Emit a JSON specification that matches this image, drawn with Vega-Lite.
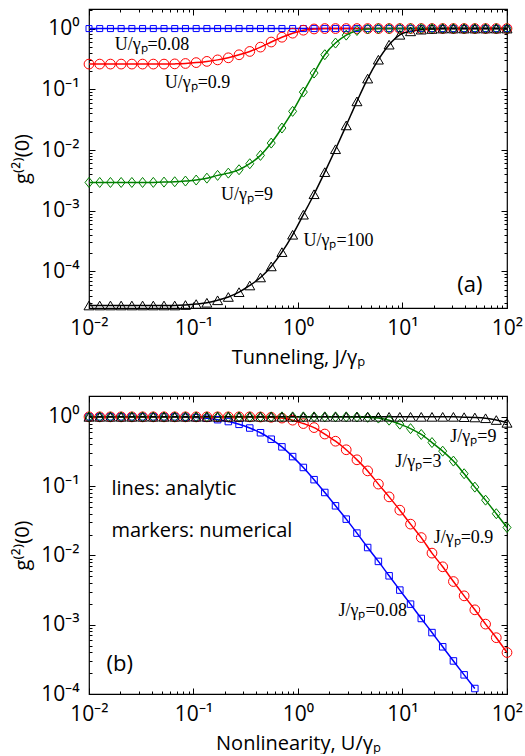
{
  "$schema": "https://vega.github.io/schema/vega-lite/v6.json",
  "padding": {"left": 12, "top": 7, "right": 0, "bottom": 0},
  "spacing": 26,
  "background": "white",
  "config": {
    "view": {"stroke": "black", "strokeWidth": 1.2},
    "font": "Open Sans",
    "axis": {
      "domain": false, "grid": false, "tickColor": "black", "tickWidth": 1,
      "labelColor": "black", "titleColor": "black", "labelFont": "Open Sans",
      "labelFontSize": 21, "titleFont": "Open Sans", "titleFontSize": 20,
      "titleFontWeight": "normal", "labelFlush": false, "labelOverlap": false, "labelBound": false
    },
    "text": {"color": "black"}
  },
  "resolve": {"scale": {"color": "independent", "shape": "independent", "size": "independent"}},
  "datasets": {
    "top": [
      {"s":"0.08","x":0.01,"g":1},{"s":"0.08","x":0.01266,"g":1},{"s":"0.08","x":0.01604,"g":1},{"s":"0.08","x":0.02031,"g":1},{"s":"0.08","x":0.02572,"g":1},{"s":"0.08","x":0.03257,"g":1},{"s":"0.08","x":0.04124,"g":1},{"s":"0.08","x":0.05222,"g":1},{"s":"0.08","x":0.06613,"g":1},{"s":"0.08","x":0.08374,"g":1},
      {"s":"0.08","x":0.1061,"g":1},{"s":"0.08","x":0.1343,"g":1},{"s":"0.08","x":0.1701,"g":1},{"s":"0.08","x":0.2154,"g":1},{"s":"0.08","x":0.2728,"g":1},{"s":"0.08","x":0.3455,"g":1},{"s":"0.08","x":0.4375,"g":1},{"s":"0.08","x":0.5541,"g":1},{"s":"0.08","x":0.7017,"g":1},{"s":"0.08","x":0.8886,"g":1},
      {"s":"0.08","x":1.125,"g":1},{"s":"0.08","x":1.425,"g":1},{"s":"0.08","x":1.805,"g":1},{"s":"0.08","x":2.285,"g":1},{"s":"0.08","x":2.894,"g":1},{"s":"0.08","x":3.665,"g":1},{"s":"0.08","x":4.642,"g":1},{"s":"0.08","x":5.878,"g":1},{"s":"0.08","x":7.444,"g":1},{"s":"0.08","x":9.427,"g":1},
      {"s":"0.08","x":11.94,"g":1},{"s":"0.08","x":15.12,"g":1},{"s":"0.08","x":19.15,"g":1},{"s":"0.08","x":24.25,"g":1},{"s":"0.08","x":30.71,"g":1},{"s":"0.08","x":38.89,"g":1},{"s":"0.08","x":49.25,"g":1},{"s":"0.08","x":62.36,"g":1},{"s":"0.08","x":78.98,"g":1},{"s":"0.08","x":100,"g":1},

      {"s":"0.9","x":0.01,"g":0.26},{"s":"0.9","x":0.01266,"g":0.26},{"s":"0.9","x":0.01604,"g":0.26},{"s":"0.9","x":0.02031,"g":0.26},{"s":"0.9","x":0.02572,"g":0.26},{"s":"0.9","x":0.03257,"g":0.26},{"s":"0.9","x":0.04124,"g":0.26},{"s":"0.9","x":0.05222,"g":0.26},{"s":"0.9","x":0.06613,"g":0.262},{"s":"0.9","x":0.08374,"g":0.266},
      {"s":"0.9","x":0.1061,"g":0.275},{"s":"0.9","x":0.1343,"g":0.288},{"s":"0.9","x":0.1701,"g":0.305},{"s":"0.9","x":0.2154,"g":0.33},{"s":"0.9","x":0.2728,"g":0.37},{"s":"0.9","x":0.3455,"g":0.42},{"s":"0.9","x":0.4375,"g":0.495},{"s":"0.9","x":0.5541,"g":0.6},{"s":"0.9","x":0.7017,"g":0.72},{"s":"0.9","x":0.8886,"g":0.84},
      {"s":"0.9","x":1.125,"g":0.94},{"s":"0.9","x":1.425,"g":0.985},{"s":"0.9","x":1.805,"g":1},{"s":"0.9","x":2.285,"g":1},{"s":"0.9","x":2.894,"g":1},{"s":"0.9","x":3.665,"g":1},{"s":"0.9","x":4.642,"g":1},{"s":"0.9","x":5.878,"g":1},{"s":"0.9","x":7.444,"g":1},{"s":"0.9","x":9.427,"g":1},
      {"s":"0.9","x":11.94,"g":1},{"s":"0.9","x":15.12,"g":1},{"s":"0.9","x":19.15,"g":1},{"s":"0.9","x":24.25,"g":1},{"s":"0.9","x":30.71,"g":1},{"s":"0.9","x":38.89,"g":1},{"s":"0.9","x":49.25,"g":1},{"s":"0.9","x":62.36,"g":1},{"s":"0.9","x":78.98,"g":1},{"s":"0.9","x":100,"g":1},

      {"s":"9","x":0.01,"g":0.00292},{"s":"9","x":0.01266,"g":0.00292},{"s":"9","x":0.01604,"g":0.00292},{"s":"9","x":0.02031,"g":0.00292},{"s":"9","x":0.02572,"g":0.00292},{"s":"9","x":0.03257,"g":0.00292},{"s":"9","x":0.04124,"g":0.00293},{"s":"9","x":0.05222,"g":0.00296},{"s":"9","x":0.06613,"g":0.0030},{"s":"9","x":0.08374,"g":0.00308},
      {"s":"9","x":0.1061,"g":0.0032},{"s":"9","x":0.1343,"g":0.00344},{"s":"9","x":0.1701,"g":0.00382},{"s":"9","x":0.2154,"g":0.00416},{"s":"9","x":0.2728,"g":0.00473},{"s":"9","x":0.3455,"g":0.00594},{"s":"9","x":0.4375,"g":0.00815},{"s":"9","x":0.5541,"g":0.013},{"s":"9","x":0.7017,"g":0.023},{"s":"9","x":0.8886,"g":0.0433},
      {"s":"9","x":1.125,"g":0.09},{"s":"9","x":1.425,"g":0.185},{"s":"9","x":1.805,"g":0.371},{"s":"9","x":2.285,"g":0.577},{"s":"9","x":2.894,"g":0.78},{"s":"9","x":3.665,"g":0.93},{"s":"9","x":4.642,"g":0.985},{"s":"9","x":5.878,"g":1},{"s":"9","x":7.444,"g":1},{"s":"9","x":9.427,"g":1},
      {"s":"9","x":11.94,"g":1},{"s":"9","x":15.12,"g":1},{"s":"9","x":19.15,"g":1},{"s":"9","x":24.25,"g":1},{"s":"9","x":30.71,"g":1},{"s":"9","x":38.89,"g":1},{"s":"9","x":49.25,"g":1},{"s":"9","x":62.36,"g":1},{"s":"9","x":78.98,"g":1},{"s":"9","x":100,"g":1},

      {"s":"100","x":0.01,"g":0.0000275},{"s":"100","x":0.01266,"g":0.0000275},{"s":"100","x":0.01604,"g":0.0000275},{"s":"100","x":0.02031,"g":0.0000275},{"s":"100","x":0.02572,"g":0.0000275},{"s":"100","x":0.03257,"g":0.0000275},{"s":"100","x":0.04124,"g":0.0000275},{"s":"100","x":0.05222,"g":0.0000275},{"s":"100","x":0.06613,"g":0.0000275},{"s":"100","x":0.08374,"g":0.000028},
      {"s":"100","x":0.1061,"g":0.000029},{"s":"100","x":0.1343,"g":0.0000305},{"s":"100","x":0.1701,"g":0.0000335},{"s":"100","x":0.2154,"g":0.000038},{"s":"100","x":0.2728,"g":0.0000456},{"s":"100","x":0.3455,"g":0.0000587},{"s":"100","x":0.4375,"g":0.0000796},{"s":"100","x":0.5541,"g":0.000121},{"s":"100","x":0.7017,"g":0.000208},{"s":"100","x":0.8886,"g":0.000402},
      {"s":"100","x":1.125,"g":0.00086},{"s":"100","x":1.425,"g":0.00187},{"s":"100","x":1.805,"g":0.00432},{"s":"100","x":2.285,"g":0.0103},{"s":"100","x":2.894,"g":0.0254},{"s":"100","x":3.665,"g":0.0632},{"s":"100","x":4.642,"g":0.15},{"s":"100","x":5.878,"g":0.307},{"s":"100","x":7.444,"g":0.543},{"s":"100","x":9.427,"g":0.79},
      {"s":"100","x":11.94,"g":0.9},{"s":"100","x":15.12,"g":0.96},{"s":"100","x":19.15,"g":0.985},{"s":"100","x":24.25,"g":1},{"s":"100","x":30.71,"g":1},{"s":"100","x":38.89,"g":1},{"s":"100","x":49.25,"g":1},{"s":"100","x":62.36,"g":1},{"s":"100","x":78.98,"g":1},{"s":"100","x":100,"g":1}
    ],
    "bottom": [
      {"s":"0.08","x":0.01,"g":1},{"s":"0.08","x":0.01266,"g":1},{"s":"0.08","x":0.01604,"g":1},{"s":"0.08","x":0.02031,"g":1},{"s":"0.08","x":0.02572,"g":1},{"s":"0.08","x":0.03257,"g":1},{"s":"0.08","x":0.04124,"g":1},{"s":"0.08","x":0.05222,"g":1},{"s":"0.08","x":0.06613,"g":1},{"s":"0.08","x":0.08374,"g":0.99},
      {"s":"0.08","x":0.1061,"g":0.975},{"s":"0.08","x":0.1343,"g":0.955},{"s":"0.08","x":0.1701,"g":0.91},{"s":"0.08","x":0.2154,"g":0.855},{"s":"0.08","x":0.2728,"g":0.78},{"s":"0.08","x":0.3455,"g":0.69},{"s":"0.08","x":0.4375,"g":0.59},{"s":"0.08","x":0.5541,"g":0.476},{"s":"0.08","x":0.7017,"g":0.369},{"s":"0.08","x":0.8886,"g":0.267},
      {"s":"0.08","x":1.125,"g":0.186},{"s":"0.08","x":1.425,"g":0.124},{"s":"0.08","x":1.805,"g":0.081},{"s":"0.08","x":2.285,"g":0.052},{"s":"0.08","x":2.894,"g":0.0334},{"s":"0.08","x":3.665,"g":0.021},{"s":"0.08","x":4.642,"g":0.013},{"s":"0.08","x":5.878,"g":0.0082},{"s":"0.08","x":7.444,"g":0.00508},{"s":"0.08","x":9.427,"g":0.00316},
      {"s":"0.08","x":11.94,"g":0.00198},{"s":"0.08","x":15.12,"g":0.00123},{"s":"0.08","x":19.15,"g":0.00077},{"s":"0.08","x":24.25,"g":0.00048},{"s":"0.08","x":30.71,"g":0.0003},{"s":"0.08","x":38.89,"g":0.000189},{"s":"0.08","x":49.25,"g":0.00012},

      {"s":"0.9","x":0.01,"g":1},{"s":"0.9","x":0.01266,"g":1},{"s":"0.9","x":0.01604,"g":1},{"s":"0.9","x":0.02031,"g":1},{"s":"0.9","x":0.02572,"g":1},{"s":"0.9","x":0.03257,"g":1},{"s":"0.9","x":0.04124,"g":1},{"s":"0.9","x":0.05222,"g":1},{"s":"0.9","x":0.06613,"g":1},{"s":"0.9","x":0.08374,"g":1},
      {"s":"0.9","x":0.1061,"g":1},{"s":"0.9","x":0.1343,"g":1},{"s":"0.9","x":0.1701,"g":1},{"s":"0.9","x":0.2154,"g":1},{"s":"0.9","x":0.2728,"g":1},{"s":"0.9","x":0.3455,"g":1},{"s":"0.9","x":0.4375,"g":0.995},{"s":"0.9","x":0.5541,"g":0.985},{"s":"0.9","x":0.7017,"g":0.96},{"s":"0.9","x":0.8886,"g":0.896},
      {"s":"0.9","x":1.125,"g":0.8},{"s":"0.9","x":1.425,"g":0.7},{"s":"0.9","x":1.805,"g":0.565},{"s":"0.9","x":2.285,"g":0.445},{"s":"0.9","x":2.894,"g":0.335},{"s":"0.9","x":3.665,"g":0.24},{"s":"0.9","x":4.642,"g":0.166},{"s":"0.9","x":5.878,"g":0.107},{"s":"0.9","x":7.444,"g":0.07},{"s":"0.9","x":9.427,"g":0.045},
      {"s":"0.9","x":11.94,"g":0.0283},{"s":"0.9","x":15.12,"g":0.0181},{"s":"0.9","x":19.15,"g":0.0108},{"s":"0.9","x":24.25,"g":0.00685},{"s":"0.9","x":30.71,"g":0.0042},{"s":"0.9","x":38.89,"g":0.00261},{"s":"0.9","x":49.25,"g":0.00164},{"s":"0.9","x":62.36,"g":0.00102},{"s":"0.9","x":78.98,"g":0.00065},{"s":"0.9","x":100,"g":0.000397},

      {"s":"3","x":0.01,"g":1},{"s":"3","x":0.01266,"g":1},{"s":"3","x":0.01604,"g":1},{"s":"3","x":0.02031,"g":1},{"s":"3","x":0.02572,"g":1},{"s":"3","x":0.03257,"g":1},{"s":"3","x":0.04124,"g":1},{"s":"3","x":0.05222,"g":1},{"s":"3","x":0.06613,"g":1},{"s":"3","x":0.08374,"g":1},
      {"s":"3","x":0.1061,"g":1},{"s":"3","x":0.1343,"g":1},{"s":"3","x":0.1701,"g":1},{"s":"3","x":0.2154,"g":1},{"s":"3","x":0.2728,"g":1},{"s":"3","x":0.3455,"g":1},{"s":"3","x":0.4375,"g":1},{"s":"3","x":0.5541,"g":1},{"s":"3","x":0.7017,"g":1},{"s":"3","x":0.8886,"g":1},
      {"s":"3","x":1.125,"g":1},{"s":"3","x":1.425,"g":1},{"s":"3","x":1.805,"g":1},{"s":"3","x":2.285,"g":1},{"s":"3","x":2.894,"g":1},{"s":"3","x":3.665,"g":0.995},{"s":"3","x":4.642,"g":0.985},{"s":"3","x":5.878,"g":0.96},{"s":"3","x":7.444,"g":0.896},{"s":"3","x":9.427,"g":0.785},
      {"s":"3","x":11.94,"g":0.676},{"s":"3","x":15.12,"g":0.557},{"s":"3","x":19.15,"g":0.426},{"s":"3","x":24.25,"g":0.32},{"s":"3","x":30.71,"g":0.23},{"s":"3","x":38.89,"g":0.151},{"s":"3","x":49.25,"g":0.0968},{"s":"3","x":62.36,"g":0.0628},{"s":"3","x":78.98,"g":0.04},{"s":"3","x":100,"g":0.0253},

      {"s":"9","x":0.01,"g":1},{"s":"9","x":0.01266,"g":1},{"s":"9","x":0.01604,"g":1},{"s":"9","x":0.02031,"g":1},{"s":"9","x":0.02572,"g":1},{"s":"9","x":0.03257,"g":1},{"s":"9","x":0.04124,"g":1},{"s":"9","x":0.05222,"g":1},{"s":"9","x":0.06613,"g":1},{"s":"9","x":0.08374,"g":1},
      {"s":"9","x":0.1061,"g":1},{"s":"9","x":0.1343,"g":1},{"s":"9","x":0.1701,"g":1},{"s":"9","x":0.2154,"g":1},{"s":"9","x":0.2728,"g":1},{"s":"9","x":0.3455,"g":1},{"s":"9","x":0.4375,"g":1},{"s":"9","x":0.5541,"g":1},{"s":"9","x":0.7017,"g":1},{"s":"9","x":0.8886,"g":1},
      {"s":"9","x":1.125,"g":1},{"s":"9","x":1.425,"g":1},{"s":"9","x":1.805,"g":1},{"s":"9","x":2.285,"g":1},{"s":"9","x":2.894,"g":1},{"s":"9","x":3.665,"g":1},{"s":"9","x":4.642,"g":1},{"s":"9","x":5.878,"g":1},{"s":"9","x":7.444,"g":1},{"s":"9","x":9.427,"g":1},
      {"s":"9","x":11.94,"g":1},{"s":"9","x":15.12,"g":1},{"s":"9","x":19.15,"g":1},{"s":"9","x":24.25,"g":1},{"s":"9","x":30.71,"g":1},{"s":"9","x":38.89,"g":0.99},{"s":"9","x":49.25,"g":0.98},{"s":"9","x":62.36,"g":0.955},{"s":"9","x":78.98,"g":0.9},{"s":"9","x":100,"g":0.82}
    ],
    "topSerif": [
      {"t":"U/γₚ=0.08","x":0.0176,"g":0.54},
      {"t":"U/γₚ=0.9","x":0.053,"g":0.125},
      {"t":"U/γₚ=9","x":0.183,"g":0.00183},
      {"t":"U/γₚ=100","x":1.127,"g":0.000312}
    ],
    "topSans": [{"t":"(a)","x":33.5,"g":0.0000603}],
    "botSerif": [
      {"t":"J/γₚ=9","x":28.7,"g":0.515},
      {"t":"J/γₚ=3","x":8.53,"g":0.226},
      {"t":"J/γₚ=0.9","x":19.9,"g":0.0178},
      {"t":"J/γₚ=0.08","x":2.44,"g":0.00158}
    ],
    "botLabel": [{"t":"(b)","x":0.0147,"g":0.00027}],
    "botNote": [
      {"t":"lines: analytic","x":0.0164,"g":0.0905},
      {"t":"markers: numerical","x":0.0164,"g":0.0226}
    ]
  },
  "vconcat": [
    {
      "width": 418, "height": 299,
      "resolve": {"axis": {"x": "independent", "y": "independent"}},
      "layer": [
        {
          "data": {"name": "top"},
          "mark": {"type": "line", "strokeWidth": 1.5, "interpolate": "monotone"},
          "encoding": {
            "x": {"field": "x", "type": "quantitative", "scale": {"type": "log", "domain": [0.01, 100], "nice": false},
              "axis": {"orient": "bottom", "values": [0.01, 0.1, 1, 10, 100], "tickSize": -6, "labelPadding": 15, "title": "Tunneling, J/γₚ", "titlePadding": 9,
                "labelExpr": "datum.value < 0.05 ? '10⁻²' : datum.value < 0.5 ? '10⁻¹' : datum.value < 5 ? '10⁰' : datum.value < 50 ? '10¹' : '10²'"}},
            "y": {"field": "g", "type": "quantitative", "scale": {"type": "log", "domain": [0.000025, 2.1], "nice": false},
              "axis": {"orient": "left", "values": [0.0001, 0.001, 0.01, 0.1, 1], "tickSize": -6, "labelPadding": 16, "title": "g⁽²⁾(0)", "titlePadding": 8,
                "labelExpr": "datum.value < 0.0005 ? '10⁻⁴' : datum.value < 0.005 ? '10⁻³' : datum.value < 0.05 ? '10⁻²' : datum.value < 0.5 ? '10⁻¹' : '10⁰'"}},
            "color": {"field": "s", "type": "nominal", "legend": null, "scale": {"domain": ["0.08", "0.9", "9", "100"], "range": ["#0000ff", "#ff0000", "#008000", "#000000"]}}
          }
        },
        {
          "data": {"name": "top"},
          "mark": {"type": "point", "filled": false, "strokeWidth": 1, "opacity": 1},
          "encoding": {
            "x": {"field": "x", "type": "quantitative", "scale": {"type": "log", "domain": [0.01, 100], "nice": false},
              "axis": {"orient": "bottom", "values": [0.02,0.03,0.04,0.05,0.06,0.07,0.08,0.09,0.2,0.3,0.4,0.5,0.6,0.7,0.8,0.9,2,3,4,5,6,7,8,9,20,30,40,50,60,70,80,90], "tickSize": -3, "labels": false, "title": null}},
            "y": {"field": "g", "type": "quantitative", "scale": {"type": "log", "domain": [0.000025, 2.1], "nice": false},
              "axis": {"orient": "left", "values": [0.00003,0.00004,0.00005,0.00006,0.00007,0.00008,0.00009,0.0002,0.0003,0.0004,0.0005,0.0006,0.0007,0.0008,0.0009,0.002,0.003,0.004,0.005,0.006,0.007,0.008,0.009,0.02,0.03,0.04,0.05,0.06,0.07,0.08,0.09,0.2,0.3,0.4,0.5,0.6,0.7,0.8,0.9,2], "tickSize": -3, "labels": false, "title": null}},
            "color": {"field": "s", "type": "nominal", "legend": null, "scale": {"domain": ["0.08", "0.9", "9", "100"], "range": ["#0000ff", "#ff0000", "#129a12", "#000000"]}},
            "shape": {"field": "s", "type": "nominal", "legend": null, "scale": {"domain": ["0.08", "0.9", "9", "100"], "range": ["square", "circle", "M0,-1L0.8,0L0,1L-0.8,0Z", "triangle-up"]}},
            "size": {"field": "s", "type": "nominal", "legend": null, "scale": {"type": "ordinal", "domain": ["0.08", "0.9", "9", "100"], "range": [36, 95, 100, 100]}}
          }
        },
        {
          "data": {"name": "topSerif"},
          "mark": {"type": "text", "align": "left", "baseline": "middle", "font": "Liberation Serif", "fontSize": 18},
          "encoding": {
            "x": {"field": "x", "type": "quantitative", "scale": {"type": "log", "domain": [0.01, 100], "nice": false},
              "axis": {"orient": "top", "values": [0.01, 0.1, 1, 10, 100], "tickSize": -6, "labels": false, "title": null}},
            "y": {"field": "g", "type": "quantitative", "scale": {"type": "log", "domain": [0.000025, 2.1], "nice": false},
              "axis": {"orient": "right", "values": [0.0001, 0.001, 0.01, 0.1, 1], "tickSize": -6, "labels": false, "title": null}},
            "text": {"field": "t"}
          }
        },
        {
          "data": {"name": "topSans"},
          "mark": {"type": "text", "align": "left", "baseline": "middle", "font": "Open Sans", "fontSize": 22},
          "encoding": {
            "x": {"field": "x", "type": "quantitative", "scale": {"type": "log", "domain": [0.01, 100], "nice": false},
              "axis": {"orient": "top", "values": [0.02,0.03,0.04,0.05,0.06,0.07,0.08,0.09,0.2,0.3,0.4,0.5,0.6,0.7,0.8,0.9,2,3,4,5,6,7,8,9,20,30,40,50,60,70,80,90], "tickSize": -3, "labels": false, "title": null}},
            "y": {"field": "g", "type": "quantitative", "scale": {"type": "log", "domain": [0.000025, 2.1], "nice": false},
              "axis": {"orient": "right", "values": [0.00003,0.00004,0.00005,0.00006,0.00007,0.00008,0.00009,0.0002,0.0003,0.0004,0.0005,0.0006,0.0007,0.0008,0.0009,0.002,0.003,0.004,0.005,0.006,0.007,0.008,0.009,0.02,0.03,0.04,0.05,0.06,0.07,0.08,0.09,0.2,0.3,0.4,0.5,0.6,0.7,0.8,0.9,2], "tickSize": -3, "labels": false, "title": null}},
            "text": {"field": "t"}
          }
        }
      ]
    },
    {
      "width": 418, "height": 298,
      "resolve": {"axis": {"x": "independent", "y": "independent"}},
      "layer": [
        {
          "data": {"name": "bottom"},
          "mark": {"type": "line", "strokeWidth": 1.5, "interpolate": "monotone"},
          "encoding": {
            "x": {"field": "x", "type": "quantitative", "scale": {"type": "log", "domain": [0.01, 100], "nice": false},
              "axis": {"orient": "bottom", "values": [0.01, 0.1, 1, 10, 100], "tickSize": -6, "labelPadding": 15, "title": "Nonlinearity, U/γₚ", "titlePadding": 9,
                "labelExpr": "datum.value < 0.05 ? '10⁻²' : datum.value < 0.5 ? '10⁻¹' : datum.value < 5 ? '10⁰' : datum.value < 50 ? '10¹' : '10²'"}},
            "y": {"field": "g", "type": "quantitative", "scale": {"type": "log", "domain": [0.0001, 2.0], "nice": false},
              "axis": {"orient": "left", "values": [0.0001, 0.001, 0.01, 0.1, 1], "tickSize": -6, "labelPadding": 16, "title": "g⁽²⁾(0)", "titlePadding": 8,
                "labelExpr": "datum.value < 0.0005 ? '10⁻⁴' : datum.value < 0.005 ? '10⁻³' : datum.value < 0.05 ? '10⁻²' : datum.value < 0.5 ? '10⁻¹' : '10⁰'"}},
            "color": {"field": "s", "type": "nominal", "legend": null, "scale": {"domain": ["0.08", "0.9", "3", "9"], "range": ["#0000ff", "#ff0000", "#008000", "#000000"]}}
          }
        },
        {
          "data": {"name": "bottom"},
          "mark": {"type": "point", "filled": false, "strokeWidth": 1, "opacity": 1},
          "encoding": {
            "x": {"field": "x", "type": "quantitative", "scale": {"type": "log", "domain": [0.01, 100], "nice": false},
              "axis": {"orient": "bottom", "values": [0.02,0.03,0.04,0.05,0.06,0.07,0.08,0.09,0.2,0.3,0.4,0.5,0.6,0.7,0.8,0.9,2,3,4,5,6,7,8,9,20,30,40,50,60,70,80,90], "tickSize": -3, "labels": false, "title": null}},
            "y": {"field": "g", "type": "quantitative", "scale": {"type": "log", "domain": [0.0001, 2.0], "nice": false},
              "axis": {"orient": "left", "values": [0.0002,0.0003,0.0004,0.0005,0.0006,0.0007,0.0008,0.0009,0.002,0.003,0.004,0.005,0.006,0.007,0.008,0.009,0.02,0.03,0.04,0.05,0.06,0.07,0.08,0.09,0.2,0.3,0.4,0.5,0.6,0.7,0.8,0.9], "tickSize": -3, "labels": false, "title": null}},
            "color": {"field": "s", "type": "nominal", "legend": null, "scale": {"domain": ["0.08", "0.9", "3", "9"], "range": ["#0000ff", "#ff0000", "#129a12", "#000000"]}},
            "shape": {"field": "s", "type": "nominal", "legend": null, "scale": {"domain": ["0.08", "0.9", "3", "9"], "range": ["square", "circle", "M0,-1L0.8,0L0,1L-0.8,0Z", "triangle-up"]}},
            "size": {"field": "s", "type": "nominal", "legend": null, "scale": {"type": "ordinal", "domain": ["0.08", "0.9", "3", "9"], "range": [42, 95, 100, 100]}}
          }
        },
        {
          "data": {"name": "botSerif"},
          "mark": {"type": "text", "align": "left", "baseline": "middle", "font": "Liberation Serif", "fontSize": 18},
          "encoding": {
            "x": {"field": "x", "type": "quantitative", "scale": {"type": "log", "domain": [0.01, 100], "nice": false},
              "axis": {"orient": "top", "values": [0.01, 0.1, 1, 10, 100], "tickSize": -6, "labels": false, "title": null}},
            "y": {"field": "g", "type": "quantitative", "scale": {"type": "log", "domain": [0.0001, 2.0], "nice": false},
              "axis": {"orient": "right", "values": [0.0001, 0.001, 0.01, 0.1, 1], "tickSize": -6, "labels": false, "title": null}},
            "text": {"field": "t"}
          }
        },
        {
          "data": {"name": "botLabel"},
          "mark": {"type": "text", "align": "left", "baseline": "middle", "font": "Open Sans", "fontSize": 22},
          "encoding": {
            "x": {"field": "x", "type": "quantitative", "scale": {"type": "log", "domain": [0.01, 100], "nice": false},
              "axis": {"orient": "top", "values": [0.02,0.03,0.04,0.05,0.06,0.07,0.08,0.09,0.2,0.3,0.4,0.5,0.6,0.7,0.8,0.9,2,3,4,5,6,7,8,9,20,30,40,50,60,70,80,90], "tickSize": -3, "labels": false, "title": null}},
            "y": {"field": "g", "type": "quantitative", "scale": {"type": "log", "domain": [0.0001, 2.0], "nice": false},
              "axis": {"orient": "right", "values": [0.0002,0.0003,0.0004,0.0005,0.0006,0.0007,0.0008,0.0009,0.002,0.003,0.004,0.005,0.006,0.007,0.008,0.009,0.02,0.03,0.04,0.05,0.06,0.07,0.08,0.09,0.2,0.3,0.4,0.5,0.6,0.7,0.8,0.9], "tickSize": -3, "labels": false, "title": null}},
            "text": {"field": "t"}
          }
        },
        {
          "data": {"name": "botNote"},
          "mark": {"type": "text", "align": "left", "baseline": "middle", "font": "Open Sans", "fontSize": 20},
          "encoding": {
            "x": {"field": "x", "type": "quantitative", "scale": {"type": "log", "domain": [0.01, 100], "nice": false}, "axis": null},
            "y": {"field": "g", "type": "quantitative", "scale": {"type": "log", "domain": [0.0001, 2.0], "nice": false}, "axis": null},
            "text": {"field": "t"}
          }
        }
      ]
    }
  ]
}
